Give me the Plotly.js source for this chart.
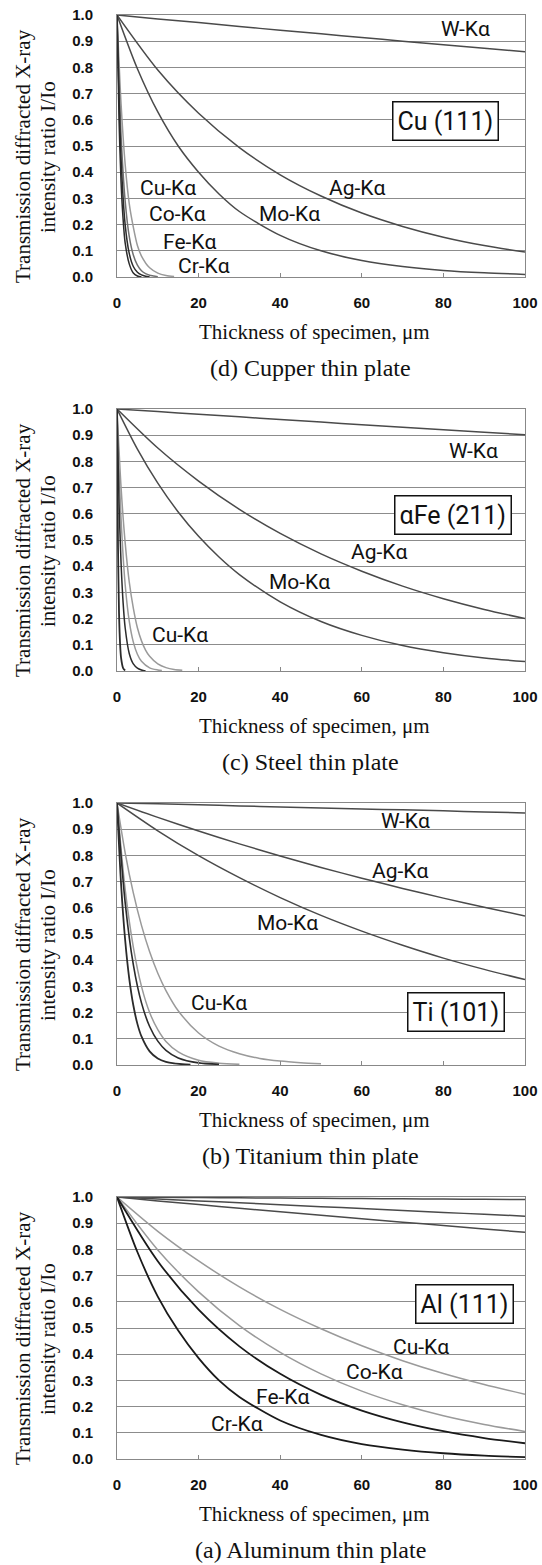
<!DOCTYPE html>
<html>
<head>
<meta charset="utf-8">
<script src="https://cdn.plot.ly/plotly-3.0.1.min.js"></script>
<style>html,body{margin:0;padding:0;background:#fff;}#chart{width:542px;height:1565px;}</style>
</head>
<body>
<div id="chart"></div>
<script>
// ---------- DATA ----------
// Panel (d) Cu(111)
const d_slowX = [0,10,20,30,40,50,60,70,80,90,100];
const d_W   = [1.0,0.985,0.971,0.956,0.942,0.928,0.914,0.900,0.886,0.873,0.860];
const d_Ag  = [1.0,0.790,0.625,0.494,0.390,0.309,0.244,0.193,0.152,0.120,0.095];
const d_MoX = [0,5,10,15,20,25,30,40,50,60,70,80,90,100];
const d_Mo  = [1.0,0.795,0.630,0.500,0.400,0.317,0.250,0.159,0.100,0.063,0.040,0.025,0.016,0.010];
const d_CrX = [0,0.5,1,1.5,2,3,4,5,6];
const d_Cr  = [1,0.60,0.36,0.22,0.13,0.05,0.015,0.004,0];
const d_FeX = [0,1,2,3,4,5,6,7,8];
const d_Fe  = [1,0.45,0.20,0.09,0.04,0.018,0.008,0.003,0];
const d_CoX = [0,1,2,3,4,5,6,7,8,9,10];
const d_Co  = [1,0.54,0.29,0.155,0.084,0.045,0.024,0.013,0.007,0.004,0.001];
const d_CuX = [0,1,2,3,4,5,6,8,10,12,14];
const d_Cu  = [1,0.66,0.43,0.28,0.19,0.12,0.08,0.035,0.015,0.006,0.002];

// Panel (c) alpha-Fe(211)
const c_slowX = [0,10,20,30,40,50,60,70,80,90,100];
const c_W   = [1.0,0.99,0.98,0.97,0.96,0.95,0.94,0.93,0.921,0.911,0.902];
const c_Ag  = [1.0,0.851,0.725,0.617,0.525,0.447,0.381,0.324,0.276,0.235,0.200];
const c_MoX = [0,5,10,15,20,25,30,40,50,60,70,80,90,100];
const c_Mo  = [1.0,0.847,0.717,0.607,0.514,0.435,0.368,0.264,0.189,0.136,0.097,0.070,0.050,0.036];
const c_s1X = [0,0.25,0.5,0.75,1,1.5,2];
const c_s1  = [1,0.47,0.22,0.105,0.05,0.011,0.002];
const c_s2X = [0,0.5,1,1.5,2,3,4,5,6,7];
const c_s2  = [1,0.64,0.41,0.26,0.165,0.067,0.027,0.011,0.004,0];
const c_s3X = [0,1,2,3,4,5,6,8,10,11];
const c_s3  = [1,0.58,0.33,0.19,0.11,0.064,0.037,0.012,0.004,0.002];
const c_s4X = [0,1,2,3,4,5,6,7,8,10,12,14,16];
const c_s4  = [1,0.70,0.49,0.34,0.24,0.165,0.115,0.08,0.056,0.027,0.013,0.006,0.003];

// Panel (b) Ti(101)
const b_slowX = [0,10,20,30,40,50,60,70,80,90,100];
const b_W   = [1.0,0.997,0.993,0.989,0.985,0.981,0.977,0.974,0.970,0.966,0.962];
const b_Ag  = [1.0,0.945,0.893,0.844,0.798,0.754,0.713,0.674,0.637,0.602,0.569];
const b_Mo  = [1.0,0.894,0.799,0.715,0.639,0.571,0.511,0.457,0.408,0.365,0.326];
const b_CrX = [0,1,2,3,4,5,6,8,10,12,14,16,18];
const b_Cr  = [1,0.69,0.477,0.33,0.228,0.157,0.109,0.052,0.025,0.012,0.006,0.003,0.001];
const b_FeX = [0,2,4,6,8,10,12,15,20,25];
const b_Fe  = [1,0.62,0.383,0.237,0.147,0.091,0.056,0.027,0.008,0.0025];
const b_CoX = [0,2,4,6,8,10,12,15,20,25,30];
const b_Co  = [1,0.67,0.45,0.30,0.20,0.135,0.09,0.05,0.018,0.007,0.0025];
const b_CuX = [0,2,4,6,8,10,12,15,20,25,30,35,40,45,50];
const b_Cu  = [1,0.81,0.657,0.533,0.432,0.35,0.284,0.207,0.122,0.072,0.043,0.025,0.015,0.009,0.005];

// Panel (a) Al(111)
const a_X   = [0,10,20,30,40,50,60,70,80,90,100];
const a_W   = [1.0,0.999,0.998,0.997,0.996,0.995,0.994,0.993,0.992,0.991,0.990];
const a_Ag  = [1.0,0.992,0.985,0.978,0.970,0.963,0.956,0.948,0.941,0.934,0.927];
const a_Mo  = [1.0,0.985,0.971,0.957,0.944,0.930,0.917,0.904,0.891,0.878,0.865];
const a_Cu  = [1.0,0.869,0.756,0.657,0.571,0.497,0.432,0.375,0.326,0.284,0.247];
const a_Co  = [1.0,0.798,0.638,0.509,0.407,0.325,0.259,0.207,0.165,0.132,0.105];
const a_Fe  = [1.0,0.755,0.570,0.430,0.325,0.245,0.185,0.140,0.106,0.080,0.060];
const a_CrX = [0,5,10,15,20,25,30,40,50,60,70,80,90,100];
const a_Cr  = [1.0,0.79,0.62,0.49,0.385,0.30,0.237,0.147,0.092,0.057,0.036,0.022,0.013,0.007];

const xTicks = [0,20,40,60,80,100];
const yTicks = [0,0.1,0.2,0.3,0.4,0.5,0.6,0.7,0.8,0.9,1.0];
const captions = ["(d) Cupper thin plate","(c) Steel thin plate","(b) Titanium thin plate","(a) Aluminum thin plate"];
const boxLabels = ["Cu (111)","\u03B1Fe (211)","Ti (101)","Al (111)"];
const yTitle1 = "Transmission diffracted X-ray";
const yTitle2 = "intensity ratio I/Io";
const xTitle = "Thickness of specimen, \u03BCm";

// ---------- LAYOUT HELPERS ----------
const W = 542, H = 1565;
const L = 117, R = 525, PH = 262;
const tops = [15, 409, 803, 1197];
const DARK = '#2b2b2b', MID = '#4a4a4a', LIGHT = '#9a9a9a';
const serif = 'Liberation Serif, Times New Roman, serif';
const narrow = 'Roboto, Liberation Sans, sans-serif';
const tickFont = {family:'Liberation Sans, Arial, sans-serif', size:15, weight:'bold', color:'#111'};

function sfx(i){ return i === 0 ? '' : String(i+1); }
function tr(i, x, y, color, width){
  return {type:'scatter', mode:'lines', x:x, y:y, xaxis:'x'+sfx(i), yaxis:'y'+sfx(i),
          line:{color:color, width:width, shape:'spline', smoothing:0.8}, hoverinfo:'skip'};
}

const data = [
  tr(0,d_slowX,d_W,MID,1.5), tr(0,d_slowX,d_Ag,MID,1.5), tr(0,d_MoX,d_Mo,MID,1.5),
  tr(0,d_CuX,d_Cu,LIGHT,1.5), tr(0,d_CoX,d_Co,'#707070',1.5), tr(0,d_FeX,d_Fe,DARK,1.5), tr(0,d_CrX,d_Cr,DARK,1.5),
  tr(1,c_slowX,c_W,MID,1.5), tr(1,c_slowX,c_Ag,MID,1.5), tr(1,c_MoX,c_Mo,MID,1.5),
  tr(1,c_s4X,c_s4,LIGHT,1.5), tr(1,c_s3X,c_s3,LIGHT,1.5), tr(1,c_s2X,c_s2,DARK,1.5), tr(1,c_s1X,c_s1,DARK,1.8),
  tr(2,b_slowX,b_W,MID,1.5), tr(2,b_slowX,b_Ag,MID,1.5), tr(2,b_slowX,b_Mo,MID,1.5),
  tr(2,b_CuX,b_Cu,LIGHT,1.5), tr(2,b_CoX,b_Co,LIGHT,1.5), tr(2,b_FeX,b_Fe,DARK,1.6), tr(2,b_CrX,b_Cr,DARK,1.8),
  tr(3,a_X,a_W,MID,1.5), tr(3,a_X,a_Ag,MID,1.5), tr(3,a_X,a_Mo,MID,1.5),
  tr(3,a_X,a_Cu,LIGHT,1.5), tr(3,a_X,a_Co,LIGHT,1.5), tr(3,a_X,a_Fe,'#1a1a1a',1.8), tr(3,a_CrX,a_Cr,'#1a1a1a',1.8)
];

const layout = {width:W, height:H, margin:{l:0,r:0,t:0,b:0}, showlegend:false,
  paper_bgcolor:'#fff', plot_bgcolor:'#fff', annotations:[]};

tops.forEach((t,i)=>{
  const s = sfx(i);
  layout['xaxis'+s] = {domain:[L/W, R/W], range:[0,100], tickvals:xTicks, ticktext:xTicks.map(String),
    ticks:'inside', ticklen:4, tickcolor:'#888', showline:true, mirror:true, linecolor:'#888', linewidth:1,
    showgrid:false, zeroline:false, tickfont:tickFont, ticklabelstandoff:12, anchor:'y'+s, fixedrange:true};
  layout['yaxis'+s] = {domain:[1-(t+PH)/H, 1-t/H], range:[0,1], tickvals:yTicks, ticktext:yTicks.map(v=>v.toFixed(1)),
    ticks:'', showgrid:true, gridcolor:'#8c8c8c', gridwidth:1, showline:true, mirror:true, linecolor:'#888', linewidth:1,
    zeroline:false, tickfont:tickFont, ticklabelstandoff:20, anchor:'x'+s, fixedrange:true};
  const A = layout.annotations;
  A.push({xref:'paper', yref:'paper', x:23/W, y:1-(t+141)/H, text:yTitle1, textangle:-90, showarrow:false,
          font:{family:serif, size:21, color:'#111'}, xanchor:'center', yanchor:'middle'});
  A.push({xref:'paper', yref:'paper', x:48/W, y:1-(t+142)/H, text:yTitle2, textangle:-90, showarrow:false,
          font:{family:serif, size:21, color:'#111'}, xanchor:'center', yanchor:'middle'});
  A.push({xref:'paper', yref:'paper', x:314/W, y:1-(t+PH+55)/H, text:xTitle, showarrow:false,
          font:{family:serif, size:21, color:'#111'}, xanchor:'center', yanchor:'middle'});
  A.push({xref:'paper', yref:'paper', x:310/W, y:1-(t+PH+91)/H, text:captions[i], showarrow:false,
          font:{family:serif, size:24, color:'#111'}, xanchor:'center', yanchor:'middle'});
});

function lab(i, x, y, text){
  const s = sfx(i);
  layout.annotations.push({xref:'x'+s, yref:'y'+s, x:x, y:y, text:text, showarrow:false,
    font:{family:narrow, size:21, color:'#111'}, xanchor:'center', yanchor:'middle'});
}
function box(i, x, y, text){
  const s = sfx(i);
  layout.annotations.push({xref:'x'+s, yref:'y'+s, x:x, y:y, text:text, showarrow:false,
    font:{family:narrow, size:25, color:'#111'}, xanchor:'center', yanchor:'middle',
    bordercolor:'#111', borderwidth:1.5, borderpad:4, bgcolor:'#fff'});
}
const K = '-K\u03B1';
// (d)
lab(0, 85.3, 0.945, 'W'+K); box(0, 80.6, 0.597, boxLabels[0]);
lab(0, 58.9, 0.338, 'Ag'+K); lab(0, 42.4, 0.242, 'Mo'+K);
lab(0, 12.4, 0.340, 'Cu'+K); lab(0, 14.9, 0.239, 'Co'+K);
lab(0, 17.9, 0.134, 'Fe'+K); lab(0, 21.3, 0.042, 'Cr'+K);
// (c)
lab(1, 87.3, 0.838, 'W'+K); box(1, 82.3, 0.596, boxLabels[1]);
lab(1, 64.1, 0.456, 'Ag'+K); lab(1, 44.8, 0.341, 'Mo'+K); lab(1, 15.4, 0.138, 'Cu'+K);
// (b)
lab(2, 70.7, 0.930, 'W'+K); lab(2, 69.3, 0.739, 'Ag'+K); lab(2, 41.7, 0.541, 'Mo'+K);
lab(2, 25.1, 0.238, 'Cu'+K); box(2, 83.2, 0.204, boxLabels[2]);
// (a)
box(3, 85.2, 0.591, boxLabels[3]);
lab(3, 74.5, 0.427, 'Cu'+K); lab(3, 63.1, 0.332, 'Co'+K);
lab(3, 40.7, 0.237, 'Fe'+K); lab(3, 29.3, 0.135, 'Cr'+K);

Plotly.newPlot('chart', data, layout, {staticPlot:true, displayModeBar:false});
</script>
</body>
</html>
